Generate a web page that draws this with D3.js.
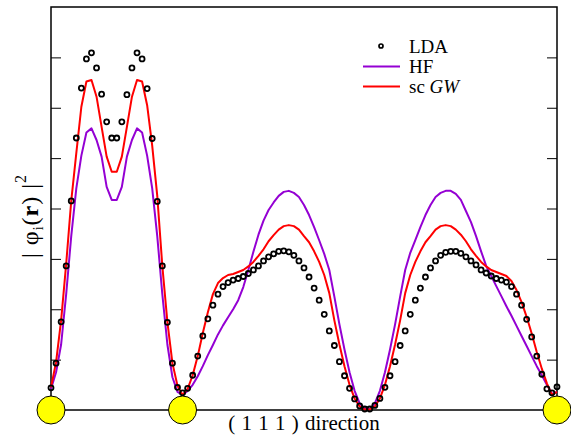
<!DOCTYPE html>
<html>
<head>
<meta charset="utf-8">
<script src="https://cdn.jsdelivr.net/npm/d3@7"></script>
<style>
  body { margin: 0; background: #fff; }
  text { font-family: "Liberation Serif", "DejaVu Serif", serif; fill: #000; }
</style>
</head>
<body>
<svg id="chart" width="571" height="435"></svg>
<script>
// Sample points along the (1 1 1) direction (grid index 0..100)
const samples = d3.range(0, 101);

// Atom sites along the line
const atomSites = [0, 26, 100];

// LDA orbital density, one value per sample point
const ldaDensity = [
  0.44, 0.93, 1.75, 2.86, 4.15, 5.40, 6.39, 6.97, 7.09, 6.79,
  6.27, 5.72, 5.40, 5.40, 5.72, 6.26, 6.79, 7.09, 6.97, 6.38,
  5.39, 4.14, 2.86, 1.74, 0.93, 0.45, 0.34, 0.43, 0.69, 1.07,
  1.47, 1.81, 2.08, 2.30, 2.45, 2.53, 2.58, 2.61, 2.65, 2.71,
  2.78, 2.86, 2.96, 3.04, 3.10, 3.15, 3.16, 3.14, 3.07, 2.96,
  2.82, 2.64, 2.42, 2.18, 1.90, 1.57, 1.28, 0.96, 0.68, 0.43,
  0.22, 0.08, 0.02, 0.02, 0.09, 0.23, 0.45, 0.68, 0.96, 1.28,
  1.57, 1.90, 2.18, 2.42, 2.64, 2.82, 2.96, 3.07, 3.13, 3.15,
  3.15, 3.11, 3.04, 2.96, 2.88, 2.78, 2.72, 2.66, 2.61, 2.58,
  2.54, 2.45, 2.30, 2.08, 1.80, 1.45, 1.07, 0.71, 0.42, 0.34,
  0.46
];

// Hartree-Fock orbital density
const hfDensity = [
  0.42, 0.75, 1.30, 2.30, 3.45, 4.40, 5.05, 5.51, 5.59, 5.36,
  5.03, 4.43, 4.17, 4.17, 4.43, 5.03, 5.36, 5.59, 5.51, 5.05,
  4.40, 3.45, 2.30, 1.30, 0.65, 0.36, 0.30, 0.38, 0.50, 0.67,
  0.87, 1.09, 1.29, 1.50, 1.68, 1.84, 2.00, 2.18, 2.44, 2.78,
  3.14, 3.48, 3.76, 3.97, 4.12, 4.25, 4.33, 4.35, 4.31, 4.23,
  4.07, 3.87, 3.63, 3.37, 3.10, 2.78, 2.25, 1.70, 1.20, 0.75,
  0.38, 0.13, 0.03, 0.02, 0.13, 0.38, 0.75, 1.20, 1.70, 2.25,
  2.78, 3.12, 3.37, 3.63, 3.87, 4.07, 4.23, 4.31, 4.35, 4.35,
  4.29, 4.17, 3.95, 3.73, 3.45, 3.15, 2.86, 2.66, 2.46, 2.26,
  2.06, 1.87, 1.67, 1.47, 1.27, 1.07, 0.87, 0.69, 0.50, 0.32,
  0.36
];

// Self-consistent GW orbital density
const scgwDensity = [
  0.45, 0.95, 1.78, 2.90, 4.15, 5.10, 6.02, 6.52, 6.55, 6.22,
  5.62, 5.03, 4.73, 4.73, 5.03, 5.62, 6.22, 6.55, 6.52, 6.05,
  5.25, 4.25, 2.86, 1.75, 0.93, 0.48, 0.30, 0.42, 0.69, 1.07,
  1.53, 1.94, 2.30, 2.52, 2.62, 2.68, 2.70, 2.74, 2.78, 2.85,
  2.94, 3.06, 3.19, 3.35, 3.47, 3.58, 3.65, 3.67, 3.65, 3.58,
  3.45, 3.33, 3.15, 2.94, 2.68, 2.32, 1.78, 1.30, 0.87, 0.50,
  0.23, 0.07, 0.01, 0.01, 0.07, 0.23, 0.50, 0.87, 1.30, 1.78,
  2.32, 2.68, 2.94, 3.15, 3.33, 3.45, 3.58, 3.65, 3.67, 3.65,
  3.58, 3.48, 3.35, 3.19, 3.06, 2.94, 2.85, 2.78, 2.74, 2.70,
  2.66, 2.56, 2.38, 2.14, 1.85, 1.52, 1.15, 0.82, 0.53, 0.30,
  0.36
];

// Unlabelled tick positions on the density axis
const yTicks = [1, 2, 3, 4, 5, 6, 7];

const lineColors = { HF: "#9400d3", "sc GW": "#ff0000" };

const svg = d3.select("#chart");
const plot = { left: 51, right: 557, top: 7, bottom: 410 };

const x = d3.scaleLinear().domain([0, 100]).range([plot.left, plot.right]);
const y = d3.scaleLinear().domain([0, 8]).range([plot.bottom, plot.top]);

// Inward ticks on both vertical sides, no labels
svg.append("g")
  .attr("transform", `translate(${plot.left},0)`)
  .call(d3.axisLeft(y).tickValues(yTicks).tickSize(-10).tickFormat(""))
  .call(g => g.select(".domain").remove())
  .call(g => g.selectAll("line").attr("stroke", "#000").attr("stroke-width", 1));

svg.append("g")
  .attr("transform", `translate(${plot.right},0)`)
  .call(d3.axisRight(y).tickValues(yTicks).tickSize(-10).tickFormat(""))
  .call(g => g.select(".domain").remove())
  .call(g => g.selectAll("line").attr("stroke", "#000").attr("stroke-width", 1));

// Frame
svg.append("rect")
  .attr("x", plot.left).attr("y", plot.top)
  .attr("width", plot.right - plot.left).attr("height", plot.bottom - plot.top)
  .attr("fill", "none").attr("stroke", "#000").attr("stroke-width", 1.5);

// Curves
const line = d3.line()
  .x((d, i) => x(samples[i]))
  .y(d => y(d))
  .curve(d3.curveLinear);

[["HF", hfDensity], ["sc GW", scgwDensity]].forEach(([name, vals]) => {
  svg.append("path")
    .datum(vals)
    .attr("fill", "none")
    .attr("stroke", lineColors[name])
    .attr("stroke-width", 2)
    .attr("stroke-linejoin", "round")
    .attr("d", line);
});

// LDA points as open circles
svg.append("g")
  .selectAll("circle")
  .data(ldaDensity)
  .join("circle")
  .attr("cx", (d, i) => x(samples[i]))
  .attr("cy", d => y(d))
  .attr("r", 2.5)
  .attr("fill", "none")
  .attr("stroke", "#000")
  .attr("stroke-width", 1.8);

// Atoms on the axis
svg.append("g")
  .selectAll("circle")
  .data(atomSites)
  .join("circle")
  .attr("cx", d => x(d))
  .attr("cy", y(0))
  .attr("r", 14)
  .attr("fill", "#ffff00")
  .attr("stroke", "#000")
  .attr("stroke-width", 1);

// Legend
const legend = svg.append("g");
const legendRows = [
  { name: "LDA", y: 53 },
  { name: "HF", y: 73 },
  { name: "sc GW", y: 93 }
];
legendRows.forEach(r => {
  if (r.name === "LDA") {
    legend.append("circle")
      .attr("cx", 381).attr("cy", r.y - 7).attr("r", 2)
      .attr("fill", "none").attr("stroke", "#000").attr("stroke-width", 1.7);
  } else {
    legend.append("line")
      .attr("x1", 363).attr("x2", 400)
      .attr("y1", r.y - 6.5).attr("y2", r.y - 6.5)
      .attr("stroke", lineColors[r.name]).attr("stroke-width", 2);
  }
  const t = legend.append("text")
    .attr("x", 409).attr("y", r.y)
    .attr("font-size", 19);
  if (r.name === "sc GW") {
    t.append("tspan").text("sc ");
    t.append("tspan").attr("font-style", "italic").text("GW");
  } else {
    t.text(r.name);
  }
});

// Axis titles
svg.append("text")
  .attr("x", (plot.left + plot.right) / 2)
  .attr("y", 430)
  .attr("text-anchor", "middle")
  .attr("font-size", 21)
  .attr("word-spacing", 1)
  .text("( 1 1 1 ) direction");

const yTitle = svg.append("text")
  .attr("transform", "translate(38,216) rotate(-90)")
  .attr("text-anchor", "middle")
  .attr("font-size", 24)
  .attr("letter-spacing", 1);
yTitle.append("tspan").text("| \u03c6");
yTitle.append("tspan").attr("font-size", 14).attr("dy", 5).text("i");
yTitle.append("tspan").attr("dy", -5).text("(");
yTitle.append("tspan").attr("font-weight", "bold").text("r");
yTitle.append("tspan").text(") |");
yTitle.append("tspan").attr("font-size", 16).attr("dy", -12).text("2");
</script>
</body>
</html>
